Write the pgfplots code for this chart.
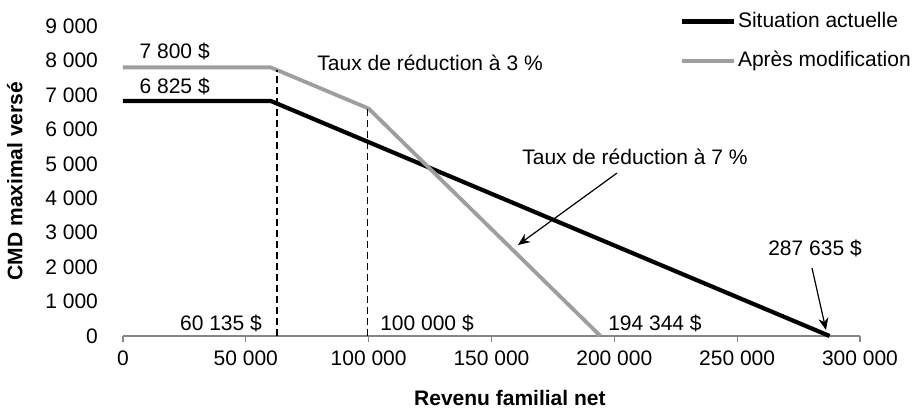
\documentclass[border=0pt]{standalone}
\usepackage{pgfplots}
\pgfplotsset{compat=1.18}
\usetikzlibrary{arrows.meta}
\usepackage{fontspec}
\setmainfont{Liberation Sans}
\newcommand\chfs{\fontsize{10.5}{12.6}\selectfont}
\definecolor{linegray}{RGB}{158,158,158}
\definecolor{axgray}{RGB}{134,134,134}
\begin{document}
\begin{tikzpicture}[x=0.5pt,y=0.5pt]
\useasboundingbox (-123,-73) rectangle (794,336);
\begin{axis}[
  at={(0,0)}, anchor=origin,
  scale only axis, width=368.5pt, height=155pt,
  xmin=0, xmax=300000, ymin=0, ymax=9000,
  clip=false,
  axis lines=left,
  y axis line style={draw=none},
  x axis line style={axgray, -, line width=0.6pt},
  scaled x ticks=false, scaled y ticks=false,
  xtick={0,50000,100000,150000,200000,250000,300000},
  xticklabels={{\chfs 0},{\chfs 50 000},{\chfs 100 000},{\chfs 150 000},{\chfs 200 000},{\chfs 250 000},{\chfs 300 000}},
  ytick={0,1000,2000,3000,4000,5000,6000,7000,8000,9000},
  yticklabels={{\chfs 0},{\chfs 1 000},{\chfs 2 000},{\chfs 3 000},{\chfs 4 000},{\chfs 5 000},{\chfs 6 000},{\chfs 7 000},{\chfs 8 000},{\chfs 9 000}},
  every tick label/.append style={font=\chfs, black},
  xticklabel style={font=\chfs, yshift=-1pt},
  yticklabel style={font=\chfs, xshift=-6pt},
  xtick style={axgray, line width=0.6pt},
  major tick length=3pt,
  tick align=outside,
  ytick style={draw=none},
  xlabel={\textbf{Revenu familial net}},
  ylabel={\textbf{CMD maximal versé}},
  label style={font=\chfs},
  xlabel style={at={(axis description cs:0.525,-0.2)}, anchor=center},
  ylabel style={at={(axis description cs:-0.147,0.5)}, anchor=center},
  legend style={draw=none, fill=none, font=\chfs, at={(axis description cs:0.755,1.052)}, anchor=north west, row sep=8.5pt, inner sep=0pt, nodes={inner sep=1pt}},
  legend cell align=left,
  legend image code/.code={\draw[#1] (0pt,0pt) -- (26pt,0pt);},
]
\addplot[black, line width=2.1pt, line join=round] coordinates {
 (0,6825) (60135,6825) (200000,2629) (287635,0)};
\addlegendentry{Situation actuelle}
\addplot[linegray, line width=1.9pt, line join=round] coordinates {
 (0,7800) (60135,7800) (100000,6604) (176000,1284) (194344,0)};
\addlegendentry{Après modification}
\addplot[black, line width=0.8pt, dash pattern=on 3.5pt off 2pt, forget plot] coordinates {(62600,0) (62600,7722)};
\addplot[black, line width=0.8pt, dash pattern=on 3.5pt off 2pt, forget plot] coordinates {(99500,0) (99500,6604)};

\node[font=\chfs] at (axis cs:21040,8253) {7 800 \$};
\node[font=\chfs] at (axis cs:21040,7258) {6 825 \$};
\node[font=\chfs] at (axis cs:125000,7925) {Taux de réduction à 3 \%};
\node[font=\chfs] at (axis cs:208400,5196) {Taux de réduction à 7 \%};
\node[font=\chfs] at (axis cs:39900,377) {60 135 \$};
\node[font=\chfs] at (axis cs:123750,377) {100 000 \$};
\node[font=\chfs] at (axis cs:216550,377) {194 344 \$};
\node[font=\chfs] at (axis cs:281690,2555) {287 635 \$};
\draw[-{Stealth[length=6pt,width=5pt]}, line width=0.6pt] (axis cs:201100,4732) -- (axis cs:160790,2642);
\draw[-{Stealth[length=6pt,width=5pt]}, line width=0.6pt] (axis cs:280460,1974) -- (axis cs:286160,174);
\end{axis}
\end{tikzpicture}
\end{document}
